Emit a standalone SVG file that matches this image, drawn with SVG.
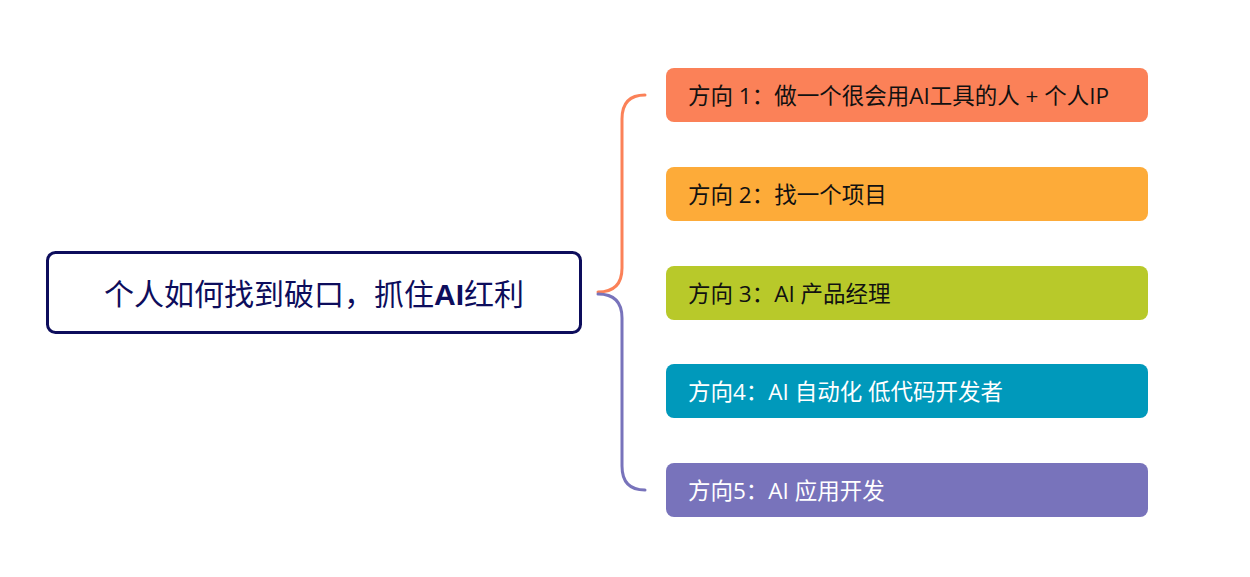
<svg xmlns="http://www.w3.org/2000/svg" width="1250" height="577" viewBox="0 0 1250 577">
<style>
.t{font-family:"Open Sans","Noto Sans CJK SC",sans-serif;font-size:22.5px}
.dark{fill:#111}
.light{fill:#fff}
.c{fill:none;stroke-width:3;stroke-linecap:round}
</style>
<rect width="1250" height="577" fill="#fff"/>
<g id="connectors">
<path class="c" stroke="#fb8158" d="M598,292 Q622,292 622,268 L622,119 Q622,95 645,95"/>
<path class="c" stroke="#7873bb" d="M598,294 Q622,294 622,318 L622,466 Q622,490 645,490"/>
</g>
<g id="root">
<rect x="47.5" y="252.5" width="533" height="80" rx="8" fill="#fff" stroke="#0d0d5c" stroke-width="3"/>
<text x="314" y="305" text-anchor="middle" font-family="'Liberation Sans','Noto Sans CJK SC',sans-serif" font-size="30" fill="#0d0d5c">个人如何找到破口，抓住<tspan font-weight="bold">AI</tspan>红利</text>
</g>
<g id="n1">
<rect x="666" y="68" width="482" height="54" rx="8" fill="#fb8158"/>
<text class="t dark" x="688" y="104">方向 1：做一个很会用AI工具的人 + 个人IP</text>
</g>
<g id="n2">
<rect x="666" y="167" width="482" height="54" rx="8" fill="#fdab39"/>
<text class="t dark" x="688" y="203">方向 2：找一个项目</text>
</g>
<g id="n3">
<rect x="666" y="266" width="482" height="54" rx="8" fill="#b8c92a"/>
<text class="t dark" x="688" y="302">方向 3：AI 产品经理</text>
</g>
<g id="n4">
<rect x="666" y="364" width="482" height="54" rx="8" fill="#0099bb"/>
<text class="t light" x="688" y="400">方向4：AI 自动化 低代码开发者</text>
</g>
<g id="n5">
<rect x="666" y="463" width="482" height="54" rx="8" fill="#7873bb"/>
<text class="t light" x="688" y="499">方向5：AI 应用开发</text>
</g>
</svg>
